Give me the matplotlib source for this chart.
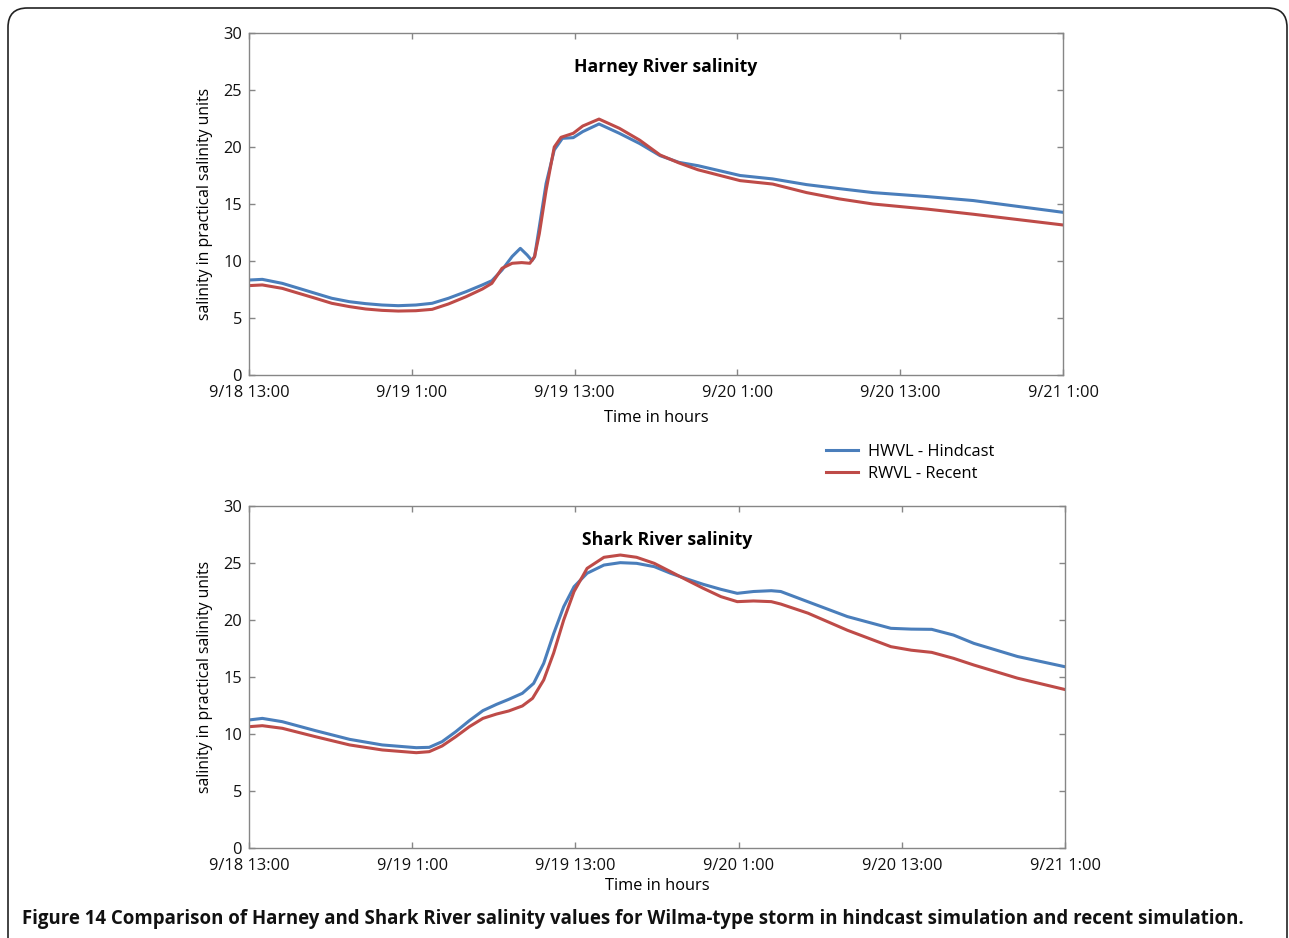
import matplotlib
matplotlib.use("Agg")
import matplotlib.pyplot as plt
from matplotlib.patches import FancyBboxPatch
from matplotlib.lines import Line2D

plt.rcParams['font.family'] = ['Open Sans', 'DejaVu Sans']

# ---- data (hours since 9/18 13:00) ----
tick_hours = [0, 12, 24, 36, 48, 60]
tick_labels = ["9/18 13:00", "9/19 1:00", "9/19 13:00", "9/20 1:00", "9/20 13:00", "9/21 1:00"]

harney_hw_t = [0, 0.98, 2.45, 3.68, 4.9, 6.1, 7.4, 8.6, 9.8, 11.0, 12.3, 13.5, 14.7, 16.0, 17.2,
               17.9, 18.65, 19.4, 20.0, 20.5, 20.86, 21.05, 21.4, 21.9, 22.5, 23.1, 23.9, 24.6,
               25.8, 27.3, 28.8, 30.3, 31.7, 33.1, 36.2, 38.6, 41.1, 43.5, 46.0, 50.0, 53.4, 60]
harney_hw = [8.33, 8.39, 8.04, 7.6, 7.16, 6.73, 6.43, 6.26, 6.14, 6.08, 6.14, 6.29, 6.73, 7.31, 7.9,
             8.27, 9.21, 10.4, 11.11, 10.53, 10.03, 10.38, 13.0, 16.8, 19.74, 20.76, 20.82, 21.35,
             22.02, 21.2, 20.3, 19.24, 18.65, 18.36, 17.5, 17.2, 16.7, 16.35, 16.0, 15.65, 15.3, 14.27]

harney_rw_t = [0, 0.98, 2.45, 3.68, 4.9, 6.1, 7.4, 8.6, 9.8, 11.0, 12.3, 13.5, 14.7, 16.0, 17.2,
               17.9, 18.65, 19.4, 20.1, 20.7, 21.05, 21.4, 21.9, 22.5, 23.0, 23.9, 24.6,
               25.8, 27.3, 28.8, 30.3, 31.7, 33.1, 36.2, 38.6, 41.1, 43.5, 46.0, 50.0, 53.4, 60]
harney_rw = [7.84, 7.9, 7.6, 7.16, 6.73, 6.29, 6.0, 5.79, 5.67, 5.61, 5.64, 5.76, 6.23, 6.87, 7.54,
             8.04, 9.36, 9.8, 9.86, 9.8, 10.38, 12.4, 16.2, 20.0, 20.85, 21.2, 21.84,
             22.45, 21.64, 20.6, 19.3, 18.6, 18.0, 17.05, 16.75, 16.0, 15.45, 15.0, 14.55, 14.1, 13.16]

shark_hw_t = [0, 0.98, 2.45, 4.9, 7.4, 9.8, 12.3, 13.25, 14.2, 15.2, 16.2, 17.2, 18.2, 19.1, 20.1,
              20.93, 21.67, 22.4, 23.14, 23.9, 24.86, 26.1, 27.3, 28.5, 29.8, 31.0, 32.2, 33.4,
              34.7, 35.9, 37.1, 38.4, 39.1, 41.1, 44.0, 47.2, 48.7, 50.2, 51.8, 53.3, 56.5, 60]
shark_hw = [11.23, 11.37, 11.08, 10.29, 9.53, 9.04, 8.8, 8.83, 9.33, 10.2, 11.17, 12.05, 12.6, 13.04, 13.57,
            14.44, 16.2, 18.8, 21.17, 22.92, 24.1, 24.82, 25.03, 24.97, 24.68, 24.1, 23.6, 23.13,
            22.69, 22.34, 22.5, 22.57, 22.5, 21.6, 20.3, 19.27, 19.2, 19.18, 18.68, 17.95, 16.8, 15.9]

shark_rw_t = [0, 0.98, 2.45, 4.9, 7.4, 9.8, 12.3, 13.25, 14.2, 15.2, 16.2, 17.2, 18.2, 19.1, 20.1,
              20.85, 21.67, 22.4, 23.14, 23.9, 24.86, 26.1, 27.3, 28.5, 29.8, 31.0, 32.2, 33.4,
              34.7, 35.9, 37.1, 38.4, 39.1, 41.1, 44.0, 47.2, 48.7, 50.2, 51.8, 53.3, 56.5, 60]
shark_rw = [10.64, 10.73, 10.5, 9.76, 9.04, 8.6, 8.36, 8.45, 8.95, 9.76, 10.64, 11.37, 11.75, 12.02, 12.46,
            13.13, 14.74, 17.1, 20.0, 22.5, 24.53, 25.5, 25.7, 25.5, 24.97, 24.24, 23.5, 22.78,
            22.05, 21.61, 21.67, 21.61, 21.4, 20.6, 19.1, 17.66, 17.35, 17.16, 16.64, 16.05, 14.9, 13.9]

series_names = ["HWVL - Hindcast", "RWVL - Recent"]
titles = ["Harney River salinity", "Shark River salinity"]
caption = ("Figure 14 Comparison of Harney and Shark River salinity values for Wilma-type storm "
           "in hindcast simulation and recent simulation.")

BLUE = "#4A7EBB"
RED = "#BE4B48"
GREY = "#868686"

W, H = 1289, 938
fig = plt.figure(figsize=(W / 100, H / 100), dpi=100)

# rounded frame
frame = FancyBboxPatch((8 / W, -0.05), (1287 - 8) / W, 1 - 8 / H + 0.05,
                       boxstyle="round,pad=0,rounding_size=0.015",
                       transform=fig.transFigure, fill=False, edgecolor="#222222",
                       linewidth=1.2, mutation_aspect=W / H)
fig.patches.append(frame)


def setup(ax, title, xlabelpad):
    ax.set_xlim(0, 60)
    ax.set_ylim(0, 30)
    ax.set_xticks(tick_hours)
    ax.set_xticklabels(tick_labels)
    ax.set_yticks(range(0, 31, 5))
    for s in ax.spines.values():
        s.set_color(GREY)
        s.set_linewidth(1.0)
    ax.tick_params(axis="both", direction="in", color=GREY, length=4, width=1,
                   top=True, right=True, labelsize=11.8, labelcolor="#111111")
    ax.tick_params(axis="x", pad=7)
    ax.tick_params(axis="y", pad=5)
    ax.set_xlabel("Time in hours", fontsize=11.8, labelpad=xlabelpad)
    ax.set_ylabel("salinity in practical salinity units", fontsize=11.3, labelpad=7)
    ax.text(0.512, 0.9, title, transform=ax.transAxes, ha="center", va="center",
            fontsize=12.7, fontweight="bold")


ax1 = fig.add_axes([249 / W, 1 - 375 / H, (1063 - 249) / W, (375 - 33) / H])
ax1.plot(harney_hw_t, harney_hw, color=BLUE, lw=2.2, solid_joinstyle="round")
ax1.plot(harney_rw_t, harney_rw, color=RED, lw=2.2, solid_joinstyle="round")
setup(ax1, titles[0], 7)

ax2 = fig.add_axes([249 / W, 1 - 848 / H, (1065 - 249) / W, (848 - 506) / H])
ax2.plot(shark_hw_t, shark_hw, color=BLUE, lw=2.2, solid_joinstyle="round")
ax2.plot(shark_rw_t, shark_rw, color=RED, lw=2.2, solid_joinstyle="round")
setup(ax2, titles[1], 3)

handles = [Line2D([], [], color=BLUE, lw=2.2), Line2D([], [], color=RED, lw=2.2)]
fig.legend(handles, series_names, loc="center left", bbox_to_anchor=(826 / W, 1 - 463 / H),
           frameon=False, fontsize=11.8, handlelength=1.95, handletextpad=0.6, labelspacing=0.38,
           borderpad=0, borderaxespad=0)

fig.text(22 / W, 1 - 919 / H, caption, ha="left", va="center", fontsize=13.45, fontweight="bold",
         color="#111111")

fig.savefig("out.png", dpi=100)
